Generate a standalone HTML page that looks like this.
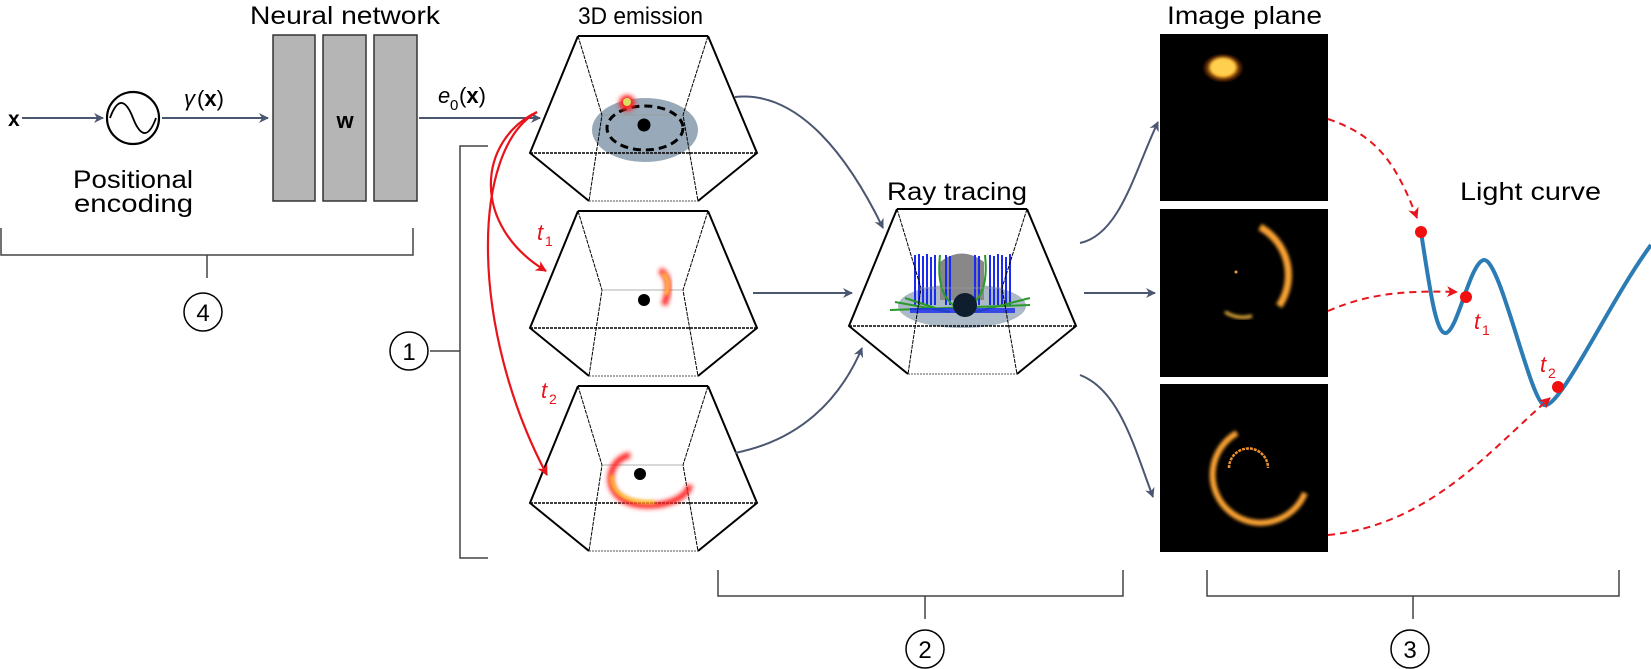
<!DOCTYPE html>
<html><head><meta charset="utf-8"><style>
html,body{margin:0;padding:0;background:#fff;}
svg{display:block;font-family:"Liberation Sans",sans-serif;}
</style></head><body>
<svg width="1651" height="669" viewBox="0 0 1651 669" xmlns="http://www.w3.org/2000/svg">
<defs>
<marker id="ga" markerWidth="10" markerHeight="10" refX="9" refY="5" orient="auto" markerUnits="userSpaceOnUse"><path d="M0,0 L10,5 L0,10 L3,5 Z" fill="#4b5670"/></marker>
<marker id="ra" markerWidth="11" markerHeight="11" refX="10" refY="5.5" orient="auto" markerUnits="userSpaceOnUse"><path d="M0,0 L11,5.5 L0,11 L3,5.5 Z" fill="#e8141b"/></marker>
<filter id="bl" x="-50%" y="-50%" width="200%" height="200%"><feGaussianBlur stdDeviation="2.5"/></filter>
<filter id="bl2" x="-50%" y="-50%" width="200%" height="200%"><feGaussianBlur stdDeviation="1.5"/></filter>
<radialGradient id="hot"><stop offset="0" stop-color="#fff6a0"/><stop offset="0.5" stop-color="#ffb020"/><stop offset="1" stop-color="#c04000" stop-opacity="0"/></radialGradient>
<g id="box" fill="none" stroke="#000">
<path d="M578,36 L708,36" stroke-width="2"/>
<path d="M578,36 L530,153 L589,201 M708,36 L757,153 L698,201" stroke-width="2"/>
<path d="M530,153 L757,153" stroke-width="1.6" stroke-dasharray="3 1"/>
<path d="M589,201 L698,201" stroke-width="1" stroke-dasharray="2 1" stroke="#555"/>
<path d="M578,36 L602,115 L589,201 M708,36 L683,115 L698,201" stroke-width="1" stroke-dasharray="4 1"/>
<path d="M602,115 L683,115" stroke-width="0.8" stroke="#999"/>
</g>
</defs>

<text x="8" y="126" font-size="21" font-weight="bold">x</text>
<line x1="22" y1="118" x2="103" y2="118" stroke="#4b5670" stroke-width="2" marker-end="url(#ga)"/>
<circle cx="133" cy="118" r="26" fill="none" stroke="#000" stroke-width="2.2"/>
<path d="M110,118 C118,96 126,100 133,118 C140,136 148,140 156,118" fill="none" stroke="#000" stroke-width="1.8"/>
<text x="184" y="106" font-size="22" font-style="italic">γ</text>
<text x="197" y="106" font-size="22">(<tspan font-weight="bold">x</tspan>)</text>
<line x1="162" y1="118" x2="268" y2="118" stroke="#4b5670" stroke-width="2" marker-end="url(#ga)"/>
<text x="73" y="188" font-size="25" textLength="120" lengthAdjust="spacingAndGlyphs">Positional</text>
<text x="74" y="212" font-size="25" textLength="119" lengthAdjust="spacingAndGlyphs">encoding</text>
<text x="250" y="24" font-size="25" textLength="190" lengthAdjust="spacingAndGlyphs">Neural network</text>
<rect x="273" y="35" width="42" height="166" fill="#b5b5b5" stroke="#333" stroke-width="1.5"/>
<rect x="323" y="35" width="43" height="166" fill="#b5b5b5" stroke="#333" stroke-width="1.5"/>
<rect x="374" y="35" width="43" height="166" fill="#b5b5b5" stroke="#333" stroke-width="1.5"/>
<text x="345" y="128" font-size="22" font-weight="bold" text-anchor="middle">w</text>
<text x="438" y="103" font-size="22" font-style="italic">e</text><text x="450" y="110" font-size="15">0</text><text x="459" y="103" font-size="22">(<tspan font-weight="bold">x</tspan>)</text>
<line x1="419" y1="118" x2="540" y2="118" stroke="#4b5670" stroke-width="2" marker-end="url(#ga)"/>
<path d="M1,228 L1,255 L413,255 L413,228 M207,255 L207,278" fill="none" stroke="#444" stroke-width="1.5"/>
<circle cx="203" cy="312" r="19" fill="none" stroke="#000" stroke-width="1.5"/>
<text x="203" y="321" font-size="24" text-anchor="middle">4</text>

<path d="M488,146 L460,146 L460,558 L488,558 M460,351 L430,351" fill="none" stroke="#444" stroke-width="1.5"/>
<circle cx="409" cy="351" r="19" fill="none" stroke="#000" stroke-width="1.5"/>
<text x="409" y="360" font-size="24" text-anchor="middle">1</text>

<text x="578" y="24" font-size="24" textLength="125" lengthAdjust="spacingAndGlyphs">3D emission</text>
<ellipse cx="645" cy="130" rx="53" ry="32" fill="#7e95a8" opacity="0.8"/>
<use href="#box"/>
<ellipse cx="645" cy="128" rx="38" ry="22" fill="none" stroke="#000" stroke-width="3" stroke-dasharray="8 5"/>
<circle cx="644" cy="125" r="6.5" fill="#000"/>
<circle cx="627" cy="103" r="8" fill="#ff2020" filter="url(#bl)"/>
<circle cx="627" cy="102" r="4" fill="#d8e060"/>

<use href="#box" transform="translate(0,175)"/>
<circle cx="644" cy="300" r="6" fill="#000"/>
<path d="M660,270 Q674,280 664,305" fill="none" stroke="#ff2020" stroke-width="6" filter="url(#bl)"/>
<path d="M663,273 Q671,282 666,295" fill="none" stroke="#ffe040" stroke-width="3" filter="url(#bl2)"/>

<use href="#box" transform="translate(0,350)"/>
<circle cx="640" cy="474" r="6" fill="#000"/>
<path d="M630,455 C605,460 600,500 640,505 C670,508 688,495 690,485" fill="none" stroke="#ff2020" stroke-width="6" filter="url(#bl)"/>
<path d="M612,475 C610,495 630,503 655,502" fill="none" stroke="#ffd020" stroke-width="3" filter="url(#bl2)"/>

<path d="M537,112 C478,140 470,225 546,271" fill="none" stroke="#e8141b" stroke-width="2.2" marker-end="url(#ra)"/>
<path d="M537,112 C470,150 470,330 547,475" fill="none" stroke="#e8141b" stroke-width="2.2" marker-end="url(#ra)"/>
<text x="537" y="240" font-size="22" font-style="italic" fill="#e8141b">t</text><text x="545" y="246" font-size="14" fill="#e8141b">1</text>
<text x="541" y="398" font-size="22" font-style="italic" fill="#e8141b">t</text><text x="549" y="404" font-size="14" fill="#e8141b">2</text>

<path d="M735,97 C800,90 850,160 883,228" fill="none" stroke="#4b5670" stroke-width="2" marker-end="url(#ga)"/>
<line x1="753" y1="293" x2="852" y2="293" stroke="#4b5670" stroke-width="2" marker-end="url(#ga)"/>
<path d="M735,453 C800,440 840,400 862,348" fill="none" stroke="#4b5670" stroke-width="2" marker-end="url(#ga)"/>

<text x="887" y="200" font-size="25" textLength="140" lengthAdjust="spacingAndGlyphs">Ray tracing</text>
<ellipse cx="962" cy="306" rx="64" ry="22" fill="#8fa3b3" opacity="0.75"/>
<path d="M940,300 L940,262 Q962,245 984,262 L984,300 Z" fill="#888"/>
<g stroke="#1a2af0" stroke-width="2">
<path d="M915,255 L915,305 M919,254 L919,305 M923,256 L923,305 M927,254 L927,305 M931,257 L931,305 M935,255 L935,305 M946,255 L946,305 M950,256 L950,305 M990,255 L990,305 M994,256 L994,305 M998,254 L998,305 M1002,255 L1002,305 M1006,257 L1006,305 M1010,254 L1010,305 M975,255 L975,305 M979,256 L979,305"/>
</g>
<path d="M890,310 L1030,305 M895,302 L950,312 M975,312 L1030,298 M905,298 L935,308 M940,255 Q935,300 962,310 Q990,300 985,255" fill="none" stroke="#2a9a2a" stroke-width="2"/>
<rect x="910" y="308" width="105" height="5" fill="#1a2af0" opacity="0.8"/>
<use href="#box" transform="translate(319,173)"/>
<circle cx="965" cy="305" r="12" fill="#0e1e2e"/>

<path d="M1080,243 C1120,235 1135,170 1158,122" fill="none" stroke="#4b5670" stroke-width="2" marker-end="url(#ga)"/>
<line x1="1084" y1="293" x2="1155" y2="293" stroke="#4b5670" stroke-width="2" marker-end="url(#ga)"/>
<path d="M1080,375 C1120,390 1135,450 1153,497" fill="none" stroke="#4b5670" stroke-width="2" marker-end="url(#ga)"/>

<text x="1167" y="24" font-size="25" textLength="155" lengthAdjust="spacingAndGlyphs">Image plane</text>
<rect x="1160" y="34" width="168" height="167" fill="#000"/>
<rect x="1160" y="209" width="168" height="168" fill="#000"/>
<rect x="1160" y="384" width="168" height="168" fill="#000"/>
<ellipse cx="1223" cy="68" rx="21" ry="15" fill="url(#hot)"/>
<ellipse cx="1223" cy="67" rx="13" ry="9" fill="#ffd050" filter="url(#bl2)"/>
<path d="M1260,227 A55,55 0 0 1 1279,306" fill="none" stroke="#f8a030" stroke-width="7" filter="url(#bl2)"/>
<path d="M1225,312 Q1238,320 1252,316" fill="none" stroke="#ffc040" stroke-width="3" filter="url(#bl2)"/>
<circle cx="1236" cy="272" r="1.5" fill="#f0a030"/>
<path d="M1237,433 A48,48 0 1 0 1305,493" fill="none" stroke="#f8a030" stroke-width="6" filter="url(#bl2)"/>
<path d="M1229,468 A19,19 0 0 1 1268,468" fill="none" stroke="#e89030" stroke-width="2.5" stroke-dasharray="3 1"/>

<text x="1460" y="200" font-size="25" textLength="141" lengthAdjust="spacingAndGlyphs">Light curve</text>
<path d="M1421,232 C1430,290 1436,335 1446,333 C1458,330 1470,262 1484,260 C1500,258 1530,400 1544,405 C1560,410 1610,300 1651,245" fill="none" stroke="#2b7bb5" stroke-width="4"/>
<path d="M1328,119 C1375,135 1395,160 1417,218" fill="none" stroke="#e8141b" stroke-width="2" stroke-dasharray="7 5" marker-end="url(#ra)"/>
<path d="M1328,311 C1365,295 1400,290 1457,292" fill="none" stroke="#e8141b" stroke-width="2" stroke-dasharray="7 5" marker-end="url(#ra)"/>
<path d="M1328,535 C1430,525 1490,450 1550,398" fill="none" stroke="#e8141b" stroke-width="2" stroke-dasharray="7 5" marker-end="url(#ra)"/>
<circle cx="1421" cy="232" r="6" fill="#f01010"/>
<circle cx="1466" cy="297" r="6" fill="#f01010"/>
<circle cx="1558" cy="387" r="6" fill="#f01010"/>
<text x="1474" y="329" font-size="22" font-style="italic" fill="#e8141b">t</text><text x="1482" y="335" font-size="14" fill="#e8141b">1</text>
<text x="1540" y="372" font-size="22" font-style="italic" fill="#e8141b">t</text><text x="1548" y="378" font-size="14" fill="#e8141b">2</text>

<path d="M718,570 L718,596 L1123,596 L1123,570 M925,596 L925,619" fill="none" stroke="#444" stroke-width="1.5"/>
<circle cx="925" cy="649" r="19" fill="none" stroke="#000" stroke-width="1.5"/>
<text x="925" y="658" font-size="24" text-anchor="middle">2</text>
<path d="M1207,570 L1207,596 L1619,596 L1619,570 M1413,596 L1413,619" fill="none" stroke="#444" stroke-width="1.5"/>
<circle cx="1410" cy="649" r="19" fill="none" stroke="#000" stroke-width="1.5"/>
<text x="1410" y="658" font-size="24" text-anchor="middle">3</text>
</svg>
</body></html>
